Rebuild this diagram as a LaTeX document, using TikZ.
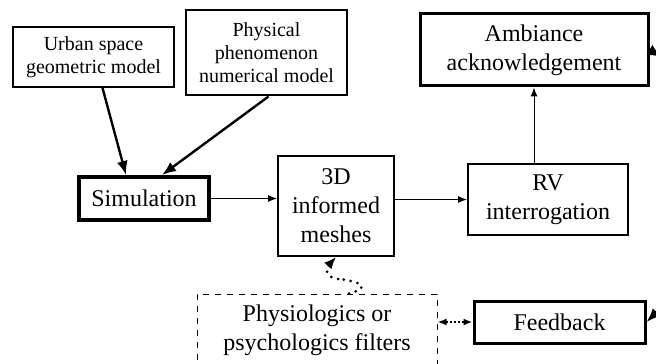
\documentclass[tikz,border=0pt]{standalone}
\usepackage{fontspec}
\setmainfont{Liberation Serif}
\usetikzlibrary{arrows.meta}
\begin{document}
\begin{tikzpicture}[x=0.5pt, y=-0.5pt,
    boxS/.style={rectangle, draw=black, line width=1pt, align=center, inner sep=2pt, font=\fontsize{10}{11.5}\selectfont},
    boxL/.style={rectangle, draw=black, line width=1pt, align=center, inner sep=2pt, font=\fontsize{12}{14.5}\selectfont},
    heavy/.style={line width=2pt},
    medium/.style={line width=1.5pt},
    flow/.style={line width=0.5pt, -{Latex[length=4.5pt, width=3.5pt]}},
    feed/.style={line width=1.2pt, -{Latex[length=7pt, width=5.5pt]}},
    dotlink/.style={line width=1.5pt, line cap=round, dash pattern=on 0pt off 3.5pt}]

    \clip (0,0) rectangle (656,363);
    \useasboundingbox (0,0) rectangle (656,363);

    % Input models
    \node[boxS, minimum width=80.5pt, minimum height=30pt] (urban) at (93.5,57) {Urban space\\geometric model};
    \node[boxS, minimum width=80.5pt, minimum height=42.5pt] (physical) at (266.5,53) {Physical\\phenomenon\\numerical model};

    % Main chain
    \node[boxL, heavy, minimum width=65pt, minimum height=21.5pt] (sim) at (144,198.5) {Simulation};
    \node[boxL, minimum width=58pt, minimum height=50pt] (meshes) at (336,206) {3D\\informed\\meshes};
    \node[boxL, minimum width=80pt, minimum height=35.5pt] (rv) at (548,199.5) {RV\\interrogation};
    \node[boxL, medium, minimum width=114pt, minimum height=36pt] (amb) at (534,50) {Ambiance\\acknowledgement};

    % Bottom row
    \node[boxL, line width=0.5pt, dashed, minimum width=120pt, minimum height=36pt] (filters) at (317,330) {Physiologics or\\psychologics filters};
    \node[boxL, medium, minimum width=85.5pt, minimum height=21pt] (feedback) at (559.5,322) {Feedback};

    \draw[feed] (urban.south) ++(9,0) -- ([xshift=-9pt]sim.north);
    \draw[feed] ([xshift=1pt]physical.south) -- ([xshift=9pt]sim.north);

    \draw[flow] (sim) -- (meshes.west |- sim);
    \draw[flow] (meshes.east |- rv) -- (rv);
    \draw[flow] (rv.north -| amb.south) -- (amb.south);

    \draw[dotlink] ([xshift=16pt]filters.north) .. controls (374,287) and (358,281) .. (338,279);
    \draw[dotlink, -{Latex[length=6pt, width=5pt]}] (338,279) .. controls (324,277) and (326,268) .. (meshes.south);

    \draw[{Latex[length=4.5pt, width=3.5pt]}-{Latex[length=4.5pt, width=3.5pt]}, line width=0.9pt, dash pattern=on 1pt off 1pt] (filters.east |- feedback) -- (feedback.west);

    \draw[line width=1.2pt, {Latex[length=7pt, width=6pt, reversed]}-{Latex[length=7pt, width=5.5pt]}] (amb.east) .. controls (720,90) and (700,270) .. (feedback.east);

\end{tikzpicture}
\end{document}
